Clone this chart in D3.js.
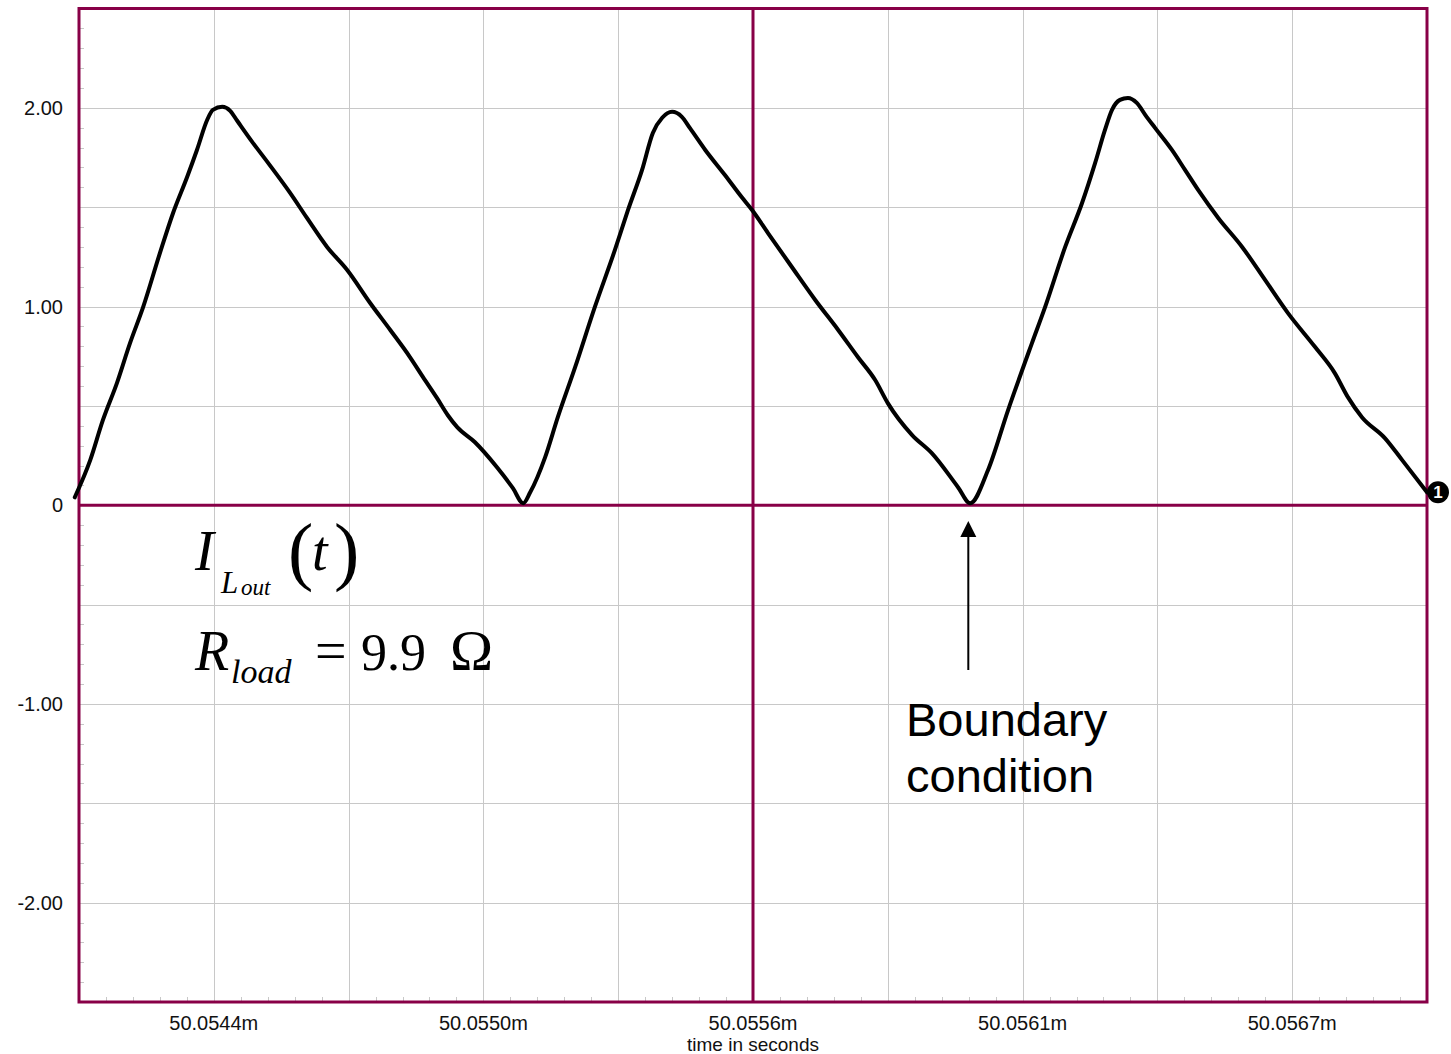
<!DOCTYPE html>
<html>
<head>
<meta charset="utf-8">
<script src="https://cdn.jsdelivr.net/npm/d3@7"></script>
<style>
  html, body { margin: 0; padding: 0; background: #ffffff; }
  svg { display: block; }
</style>
</head>
<body>
<svg id="chart" width="1451" height="1054"></svg>
<script>
// Inductor output current I_Lout(t), time in ms, current in A
const timeMs = [
  50.054111, 50.054144, 50.054171, 50.054201, 50.054229, 50.054257, 50.054293, 50.054321,
  50.054351, 50.054372, 50.054394, 50.054406, 50.054426, 50.054443, 50.054458, 50.054490,
  50.054524, 50.054571, 50.054607, 50.054650, 50.054693, 50.054742, 50.054785, 50.054827,
  50.054855, 50.054885, 50.054908, 50.054928, 50.054966, 50.055013, 50.055047, 50.055069,
  50.055084, 50.055116, 50.055143, 50.055180, 50.055222, 50.055265, 50.055293, 50.055323,
  50.055346, 50.055366, 50.055387, 50.055408, 50.055425, 50.055458, 50.055500, 50.055537,
  50.055558, 50.055592, 50.055643, 50.055693, 50.055742, 50.055784, 50.055821, 50.055848,
  50.055900, 50.055942, 50.055998, 50.056024, 50.056062, 50.056105, 50.056156, 50.056184,
  50.056227, 50.056263, 50.056291, 50.056312, 50.056327, 50.056344, 50.056361, 50.056380,
  50.056398, 50.056419, 50.056455, 50.056483, 50.056511, 50.056554, 50.056605, 50.056654,
  50.056703, 50.056761, 50.056803, 50.056831, 50.056861, 50.056910, 50.056947, 50.057000
];
const currentA = [
  0.040, 0.227, 0.428, 0.615, 0.816, 0.997, 1.270, 1.471,
  1.652, 1.788, 1.940, 1.990, 2.005, 1.985, 1.935, 1.829,
  1.723, 1.572, 1.446, 1.300, 1.184, 1.018, 0.882, 0.746,
  0.645, 0.539, 0.453, 0.393, 0.317, 0.191, 0.086, 0.010,
  0.065, 0.242, 0.443, 0.695, 0.997, 1.285, 1.486, 1.688,
  1.874, 1.950, 1.980, 1.955, 1.899, 1.788, 1.662, 1.547,
  1.486, 1.370, 1.199, 1.033, 0.882, 0.746, 0.630, 0.514,
  0.353, 0.262, 0.091, 0.010, 0.176, 0.479, 0.816, 0.997,
  1.300, 1.521, 1.723, 1.889, 1.990, 2.040, 2.050, 2.025,
  1.965, 1.899, 1.788, 1.688, 1.587, 1.446, 1.300, 1.134,
  0.967, 0.796, 0.665, 0.544, 0.443, 0.338, 0.227, 0.065
];

const xDomain = [50.05412, 50.05700];
const yDomain = [-2.5, 2.5];
const xTickValues = [50.054408, 50.054984, 50.055560, 50.056136, 50.056712];
const xTickLabels = ["50.0544m", "50.0550m", "50.0556m", "50.0561m", "50.0567m"];
const yTickValues = [2, 1, 0, -1, -2];
const yTickLabels = ["2.00", "1.00", "0", "-1.00", "-2.00"];
const boundaryTime = 50.056020;   // valley marked by the annotation arrow

const svg = d3.select("#chart");
const plotLeft = 79, plotRight = 1427, plotTop = 8.5, plotBottom = 1002;
const maroon = "#880047";
const gridColor = "#c8c8c8";

const x = d3.scaleLinear().domain(xDomain).range([plotLeft, plotRight]);
const y = d3.scaleLinear().domain(yDomain).range([plotBottom, plotTop]);

const xDiv = (xDomain[1] - xDomain[0]) / 10;
const xGrid = d3.range(0, 11).map(i => xDomain[0] + i * xDiv);
const yGrid = d3.range(-5, 6).map(i => i / 2);
const xMinor = d3.range(0, 51).map(i => xDomain[0] + i * xDiv / 5);
const yMinor = d3.range(-25, 26).map(i => i / 10);

// grid lines
const g = svg.append("g");
g.selectAll("line.vg").data(xGrid).join("line")
  .attr("x1", d => Math.round(x(d)) + 0.5).attr("x2", d => Math.round(x(d)) + 0.5)
  .attr("y1", plotTop).attr("y2", plotBottom)
  .attr("stroke", gridColor).attr("stroke-width", 1);
g.selectAll("line.hg").data(yGrid).join("line")
  .attr("y1", d => Math.round(y(d)) + 0.5).attr("y2", d => Math.round(y(d)) + 0.5)
  .attr("x1", plotLeft).attr("x2", plotRight)
  .attr("stroke", gridColor).attr("stroke-width", 1);

// minor ticks along left and bottom edges
const minor = svg.append("g");
minor.selectAll("line.ym").data(yMinor).join("line")
  .attr("y1", d => Math.round(y(d)) + 0.5).attr("y2", d => Math.round(y(d)) + 0.5)
  .attr("x1", plotLeft).attr("x2", plotLeft + 5)
  .attr("stroke", gridColor).attr("stroke-width", 1);
minor.selectAll("line.xm").data(xMinor).join("line")
  .attr("x1", d => Math.round(x(d)) + 0.5).attr("x2", d => Math.round(x(d)) + 0.5)
  .attr("y1", plotBottom).attr("y2", plotBottom - 5)
  .attr("stroke", gridColor).attr("stroke-width", 1);

// zero line and centre marker line
const xMid = (xDomain[0] + xDomain[1]) / 2;
svg.append("line")
  .attr("x1", plotLeft).attr("x2", plotRight).attr("y1", y(0)).attr("y2", y(0))
  .attr("stroke", maroon).attr("stroke-width", 3);
svg.append("line")
  .attr("x1", x(xMid)).attr("x2", x(xMid))
  .attr("y1", plotTop).attr("y2", plotBottom)
  .attr("stroke", maroon).attr("stroke-width", 3);

// plot frame
svg.append("rect")
  .attr("x", plotLeft).attr("y", plotTop)
  .attr("width", plotRight - plotLeft).attr("height", plotBottom - plotTop)
  .attr("fill", "none").attr("stroke", maroon).attr("stroke-width", 3);

// axis labels
const axisFont = "'Liberation Sans', Arial, sans-serif";
svg.append("g").selectAll("text").data(yTickValues).join("text")
  .attr("x", 63).attr("y", d => y(d) + 7)
  .attr("text-anchor", "end")
  .attr("font-family", axisFont).attr("font-size", 20).attr("fill", "#111")
  .text((d, i) => yTickLabels[i]);
svg.append("g").selectAll("text").data(xTickValues).join("text")
  .attr("x", d => x(d)).attr("y", 1030)
  .attr("text-anchor", "middle")
  .attr("font-family", axisFont).attr("font-size", 20).attr("fill", "#111")
  .text((d, i) => xTickLabels[i]);
svg.append("text")
  .attr("x", x(xMid)).attr("y", 1051)
  .attr("text-anchor", "middle")
  .attr("font-family", axisFont).attr("font-size", 19).attr("fill", "#111")
  .text("time in seconds");

// waveform
const pts = timeMs.map((t, i) => [t, currentA[i]]);
const line = d3.line().x(d => x(d[0])).y(d => y(d[1])).curve(d3.curveMonotoneX);
svg.append("path")
  .attr("d", line(pts))
  .attr("fill", "none").attr("stroke", "#000").attr("stroke-width", 4)
  .attr("stroke-linejoin", "round").attr("stroke-linecap", "round");

// trace marker "1" at the end of the waveform
const last = pts[pts.length - 1];
svg.append("circle")
  .attr("cx", x(last[0]) + 11).attr("cy", y(last[1]))
  .attr("r", 11).attr("fill", "#000");
svg.append("text")
  .attr("x", x(last[0]) + 11).attr("y", y(last[1]) + 6)
  .attr("text-anchor", "middle")
  .attr("font-family", axisFont).attr("font-size", 17).attr("font-weight", "bold")
  .attr("fill", "#fff").text("1");

// equation annotations
const serif = "'Liberation Serif', 'Times New Roman', serif";
const ann = svg.append("g").attr("fill", "#000").attr("font-family", serif);
ann.append("text").attr("x", 195).attr("y", 570).attr("font-size", 57).attr("font-style", "italic").text("I");
ann.append("text").attr("x", 221).attr("y", 593).attr("font-size", 31).attr("font-style", "italic").text("L");
ann.append("text").attr("x", 241).attr("y", 595).attr("font-size", 23).attr("font-style", "italic").text("out");
ann.append("text").attr("x", 288).attr("y", 576).attr("font-size", 76).text("(");
ann.append("text").attr("x", 312).attr("y", 570).attr("font-size", 56).attr("font-style", "italic").text("t");
ann.append("text").attr("x", 334).attr("y", 576).attr("font-size", 76).text(")");

ann.append("text").attr("x", 195).attr("y", 670).attr("font-size", 56).attr("font-style", "italic").text("R");
ann.append("text").attr("x", 231).attr("y", 683).attr("font-size", 34).attr("font-style", "italic").text("load");
ann.append("text").attr("x", 315).attr("y", 670).attr("font-size", 56).text("=");
ann.append("text").attr("x", 361).attr("y", 670).attr("font-size", 52).text("9.9");
ann.append("text").attr("x", 450).attr("y", 670).attr("font-size", 58).text("Ω");

// boundary-condition arrow and label
const ax = x(boundaryTime);
svg.append("line")
  .attr("x1", ax).attr("x2", ax).attr("y1", 670).attr("y2", 532)
  .attr("stroke", "#000").attr("stroke-width", 2);
svg.append("path")
  .attr("d", `M${ax},${521} L${ax - 8},${537} L${ax + 8},${537} Z`)
  .attr("fill", "#000");
const bc = svg.append("g").attr("font-family", axisFont).attr("font-size", 47).attr("fill", "#000");
bc.append("text").attr("x", 906).attr("y", 736).text("Boundary");
bc.append("text").attr("x", 906).attr("y", 792).text("condition");
</script>
</body>
</html>
